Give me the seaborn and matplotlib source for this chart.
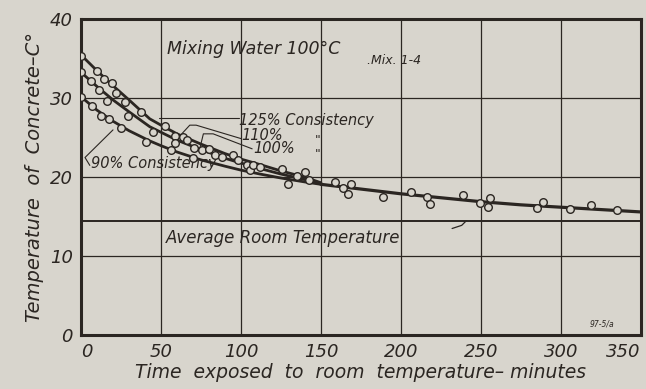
import matplotlib
matplotlib.use("Agg")
import matplotlib.pyplot as plt
import seaborn as sns
import pandas as pd

# ---- data ----
curve_x = [0, 10, 20, 30, 43, 50, 60, 75, 90, 100, 112, 125, 140, 150]
curve_125 = [35.5, 33.5, 31.6, 29.8, 27.4, 26.6, 25.5, 24.2, 23.0, 22.3, 21.6, 20.8, 20.0, 19.3]
curve_110 = [33.3, 31.5, 29.8, 28.3, 26.4, 25.7, 24.7, 23.5, 22.4, 21.8, 21.1, 20.4, 19.7, 19.2]
curve_90 = [30.2, 28.5, 27.1, 25.9, 24.6, 24.0, 23.2, 22.2, 21.4, 20.9, 20.4, 19.9, 19.4, 19.1]
tail_x = [150, 175, 200, 225, 250, 275, 300, 325, 350]
tail_y = [19.1, 18.5, 17.9, 17.4, 16.9, 16.5, 16.2, 15.9, 15.6]

obs_x = [0, 0, 0, 6, 7, 10, 11.5, 12.3, 14.6, 16.4, 17.7, 19.2, 21.7, 25, 27.5, 29.6,
         37.3, 40.6, 45.2, 52.5, 56, 58.8, 58.8, 64, 66, 70.2, 70.6, 75.4, 80.2, 83.8,
         88, 94.8, 98.3, 103.5, 105.6, 107.7, 112, 125.4, 129.6, 134.8, 140, 142.7,
         158.8, 164, 167, 169, 188.6, 206, 216.5, 218.5, 239, 249.4, 254.6, 256,
         284.8, 288.6, 306, 319, 335]
obs_y = [35.4, 33.3, 30.2, 32.2, 29.0, 33.5, 31.0, 27.7, 32.4, 29.6, 27.4, 31.9, 30.7, 26.2, 29.5, 27.7,
         28.3, 24.5, 25.7, 26.5, 23.4, 25.2, 24.3, 25.1, 24.7, 22.5, 23.7, 23.4, 23.6, 22.8,
         22.6, 22.8, 22.2, 21.5, 20.9, 21.5, 21.3, 21.1, 19.2, 20.1, 20.7, 19.7,
         19.4, 18.6, 17.9, 19.1, 17.5, 18.1, 17.5, 16.6, 17.7, 16.7, 16.2, 17.4,
         16.1, 16.9, 16.0, 16.5, 15.9]

room_temp = 14.5
x_ticks = [0, 50, 100, 150, 200, 250, 300, 350]
y_ticks = [0, 10, 20, 30, 40]

# ---- style ----
paper = "#d8d5cd"
ink = "#2b2622"
sns.set_style("white")
plt.rcParams["font.family"] = ["DejaVu Sans"]

fig = plt.figure(figsize=(6.46, 3.89), dpi=100, facecolor=paper)
ax = fig.add_axes([0.1254, 0.1388, 0.8666, 0.8112])
ax.set_facecolor(paper)

# grid
for gx in [50, 100, 150, 200, 250, 300]:
    ax.axvline(gx, color=ink, lw=0.9, zorder=1)
for gy in [10, 20, 30]:
    ax.axhline(gy, color=ink, lw=0.9, zorder=1)
ax.axhline(room_temp, color=ink, lw=1.4, zorder=1)

# curves
for cy in [curve_125, curve_110, curve_90]:
    sns.lineplot(x=curve_x, y=cy, ax=ax, color=ink, lw=2.0, zorder=3)
sns.lineplot(x=tail_x, y=tail_y, ax=ax, color=ink, lw=2.3, zorder=3)

# observations
sns.scatterplot(x=obs_x, y=obs_y, ax=ax, marker="o", s=30, facecolor=paper,
                edgecolor=ink, linewidth=1.0, zorder=4)

ax.set_xlim(0, 350)
ax.set_ylim(0, 40)
ax.set_xticks(x_ticks)
ax.set_yticks(y_ticks)
ax.set_xticklabels([str(v) for v in x_ticks], fontsize=13, style="italic", color=ink)
ax.set_yticklabels([str(v) for v in y_ticks], fontsize=13, style="italic", color=ink)
xt = ax.get_xticklabels()
xt[0].set_ha("left")
xt[-1].set_ha("right")
ax.tick_params(length=0, pad=6)
for sp in ax.spines.values():
    sp.set_visible(True)
    sp.set_color(ink)
    sp.set_linewidth(2.2)

ax.set_xlabel("Time  exposed  to  room  temperature– minutes", fontsize=13.5,
              style="italic", color=ink, labelpad=1)
ax.set_ylabel("Temperature  of  Concrete–C°", fontsize=14, style="italic",
              color=ink, labelpad=4)

tk = dict(style="italic", color=ink)
ax.text(54, 36.3, "Mixing Water 100°C", fontsize=12.5, va="center", **tk)
ax.text(179, 34.8, ".Mix. 1-4", fontsize=9, va="center", **tk)
ax.text(99, 27.2, "125% Consistency", fontsize=10.5, va="center", **tk)
ax.plot([49, 99], [27.5, 27.5], color=ink, lw=0.8)
ax.text(100, 25.3, "110%", fontsize=10.5, va="center", **tk)
ax.plot([63, 68, 72, 100], [25.5, 26.6, 26.6, 24.9], color=ink, lw=0.8)
ax.text(108, 23.6, "100%", fontsize=10.5, va="center", **tk)
ax.plot([74, 76.5, 82.6, 107], [23.4, 25.5, 25.5, 23.6], color=ink, lw=0.8)
ax.text(146, 24.6, "\"", fontsize=9, va="center", **tk)
ax.text(146, 22.9, "\"", fontsize=9, va="center", **tk)
ax.text(6, 21.7, "90% Consistency", fontsize=10.5, va="center", **tk)
ax.plot([20, 2.5, 5.5], [26.0, 22.5, 21.5], color=ink, lw=0.8)
ax.text(53, 12.3, "Average Room Temperature", fontsize=12, va="center", **tk)
ax.plot([232, 238, 241], [13.5, 13.9, 14.5], color=ink, lw=0.9)
ax.text(318, 1.4, "97-5/a", fontsize=5.5, va="center", **tk)

fig.savefig("out.png", dpi=100, facecolor=paper)
